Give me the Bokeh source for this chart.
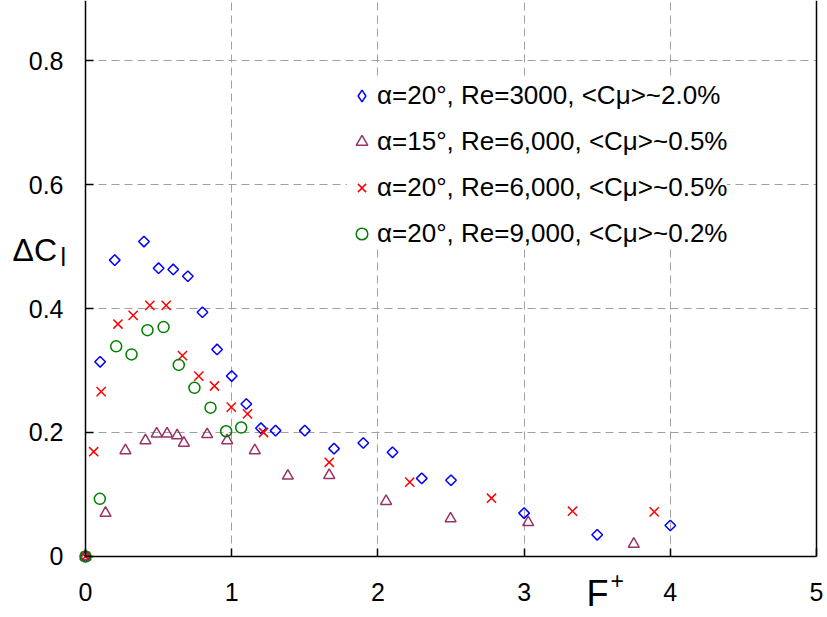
from bokeh.plotting import figure
from bokeh.models import (Range1d, FixedTicker, LinearAxis, Legend,
                          LegendItem, Label)
from bokeh.embed import file_html
from bokeh.resources import INLINE
import math

# Lift increment vs. reduced forcing frequency, four test cases
x_re3000 = [0, 0.1, 0.2, 0.4, 0.5, 0.6, 0.7, 0.8, 0.9, 1.0, 1.1, 1.2, 1.3,
            1.5, 1.7, 1.9, 2.1, 2.3, 2.5, 3.0, 3.5, 4.0]
y_re3000 = [0, 0.314, 0.478, 0.508, 0.465, 0.463, 0.452, 0.394, 0.334, 0.291,
            0.246, 0.207, 0.203, 0.203, 0.174, 0.183, 0.168, 0.126, 0.123,
            0.070, 0.035, 0.050]

x_a15_re6000 = [0, 0.137, 0.273, 0.41, 0.487, 0.558, 0.627, 0.673, 0.832,
                0.969, 1.158, 1.384, 1.667, 2.056, 2.497, 3.028, 3.75]
y_a15_re6000 = [0, 0.070, 0.171, 0.187, 0.198, 0.198, 0.195, 0.183, 0.197,
                0.187, 0.171, 0.130, 0.131, 0.089, 0.061, 0.055, 0.020]

x_a20_re6000 = [0, 0.056, 0.107, 0.222, 0.326, 0.44, 0.552, 0.663, 0.775,
                0.882, 0.997, 1.108, 1.218, 1.667, 2.218, 2.777, 3.331, 3.89]
y_a20_re6000 = [0, 0.169, 0.266, 0.375, 0.389, 0.405, 0.405, 0.324, 0.291,
                0.275, 0.241, 0.230, 0.200, 0.152, 0.120, 0.094, 0.073, 0.072]

x_re9000 = [0, 0.098, 0.21, 0.315, 0.424, 0.534, 0.638, 0.745, 0.855, 0.962,
            1.065]
y_re9000 = [0, 0.093, 0.339, 0.326, 0.365, 0.370, 0.309, 0.272, 0.240, 0.202,
            0.208]

series_labels = [
    "α=20°, Re=3000, <Cμ>~2.0%",
    "α=15°, Re=6,000, <Cμ>~0.5%",
    "α=20°, Re=6,000, <Cμ>~0.5%",
    "α=20°, Re=9,000, <Cμ>~0.2%",
]

x_ticks = [0, 1, 2, 3, 4, 5]
y_ticks = [0, 0.2, 0.4, 0.6, 0.8]
y_tick_labels = ["0", "0.2", "0.4", "0.6", "0.8"]

X_MAX = 5
Y_MAX = 0.9

FONT = "Liberation Sans"

# The frame fills the whole canvas; the axes sit at fixed data locations so
# that the tick labels and axis titles stay inside the drawable area.
p = figure(width=827, height=617, output_backend="svg", toolbar_location=None,
           x_range=Range1d(-0.5814, 5.0752), y_range=Range1d(-0.0984, 0.8968),
           min_border_left=0, min_border_right=0, min_border_top=0,
           min_border_bottom=0)
p.outline_line_color = None
p.background_fill_color = "white"
p.border_fill_color = "white"

xa, ya = p.xaxis[0], p.yaxis[0]
xa.fixed_location = 0
xa.bounds = (0, X_MAX)
ya.fixed_location = 0
ya.bounds = (0, Y_MAX)
for ax in (xa, ya):
    ax.axis_line_color = "black"
    ax.axis_line_width = 1.5
    ax.major_tick_in = 8
    ax.major_tick_out = 0
    ax.major_tick_line_color = "black"
    ax.major_tick_line_width = 1.5
    ax.minor_tick_line_color = None
    ax.major_label_text_font = FONT
    ax.major_label_text_font_size = "25px"
    ax.major_label_text_color = "black"

xa.ticker = FixedTicker(ticks=x_ticks)
xa.major_label_overrides = {t: str(t) for t in x_ticks}
xa.major_label_standoff = 27
ya.ticker = FixedTicker(ticks=y_ticks)
ya.major_label_overrides = dict(zip(y_ticks, y_tick_labels))
ya.major_label_standoff = 22

# right-hand frame edge at F+ = 5
right_edge = LinearAxis(fixed_location=X_MAX, bounds=(0, Y_MAX),
                        ticker=FixedTicker(ticks=[]), axis_line_color="black",
                        axis_line_width=1.5, major_tick_line_color=None,
                        minor_tick_line_color=None)
p.add_layout(right_edge, "right")

p.xgrid.ticker = FixedTicker(ticks=x_ticks[1:-1])
p.ygrid.ticker = FixedTicker(ticks=y_ticks[1:])
p.xgrid[0].cross_bounds = (0, Y_MAX)
p.ygrid[0].cross_bounds = (0, X_MAX)
for g in (p.xgrid[0], p.ygrid[0]):
    g.grid_line_color = "#a0a0a0"
    g.grid_line_width = 1
    g.grid_line_dash = "8 5"

r1 = p.scatter(x_re3000, y_re3000, marker="square", angle=math.pi / 4,
               size=7.5, fill_color=None, line_color="#0000ff", line_width=1.5)
r2 = p.scatter(x_a15_re6000, y_a15_re6000, marker="triangle", size=11,
               fill_color=None, line_color="#993366", line_width=1.5)
r3 = p.scatter(x_a20_re6000, y_a20_re6000, marker="x", size=13,
               line_color="#ff0000", line_width=1.5)
r4 = p.scatter(x_re9000, y_re9000, marker="circle", size=11,
               fill_color=None, line_color="#008000", line_width=1.5)
# legend key for the first series (a diamond, since legend keys are unrotated)
r1_key = p.scatter(x_re3000, y_re3000, marker="diamond", size=11,
                   fill_color=None, line_color="#0000ff", line_width=1.5,
                   visible=False)

legend = Legend(items=[LegendItem(label=lab, renderers=[r])
                       for lab, r in zip(series_labels,
                                         [r1_key, r2, r3, r4])],
                location=(347, 368), padding=17, margin=0, spacing=15,
                glyph_width=29, glyph_height=29, label_height=29,
                label_standoff=1, label_text_font=FONT,
                label_text_font_size="26px", label_text_color="black",
                border_line_color=None, background_fill_color="white",
                background_fill_alpha=1.0, inactive_fill_alpha=0.0)
p.add_layout(legend, "center")

# axis titles: ΔC_l beside the vertical axis, F⁺ among the bottom tick labels
for txt, x, y, size in [("ΔC", 12, 368, "32px"), ("l", 60, 361, "25px"),
                        ("F", 586, 24, "36px"), ("+", 610, 37, "23px")]:
    p.add_layout(Label(x=x, y=y, x_units="screen", y_units="screen", text=txt,
                       text_font=FONT, text_font_size=size,
                       text_baseline="alphabetic", text_color="black"))

open("out.html", "w").write(file_html(p, INLINE))
